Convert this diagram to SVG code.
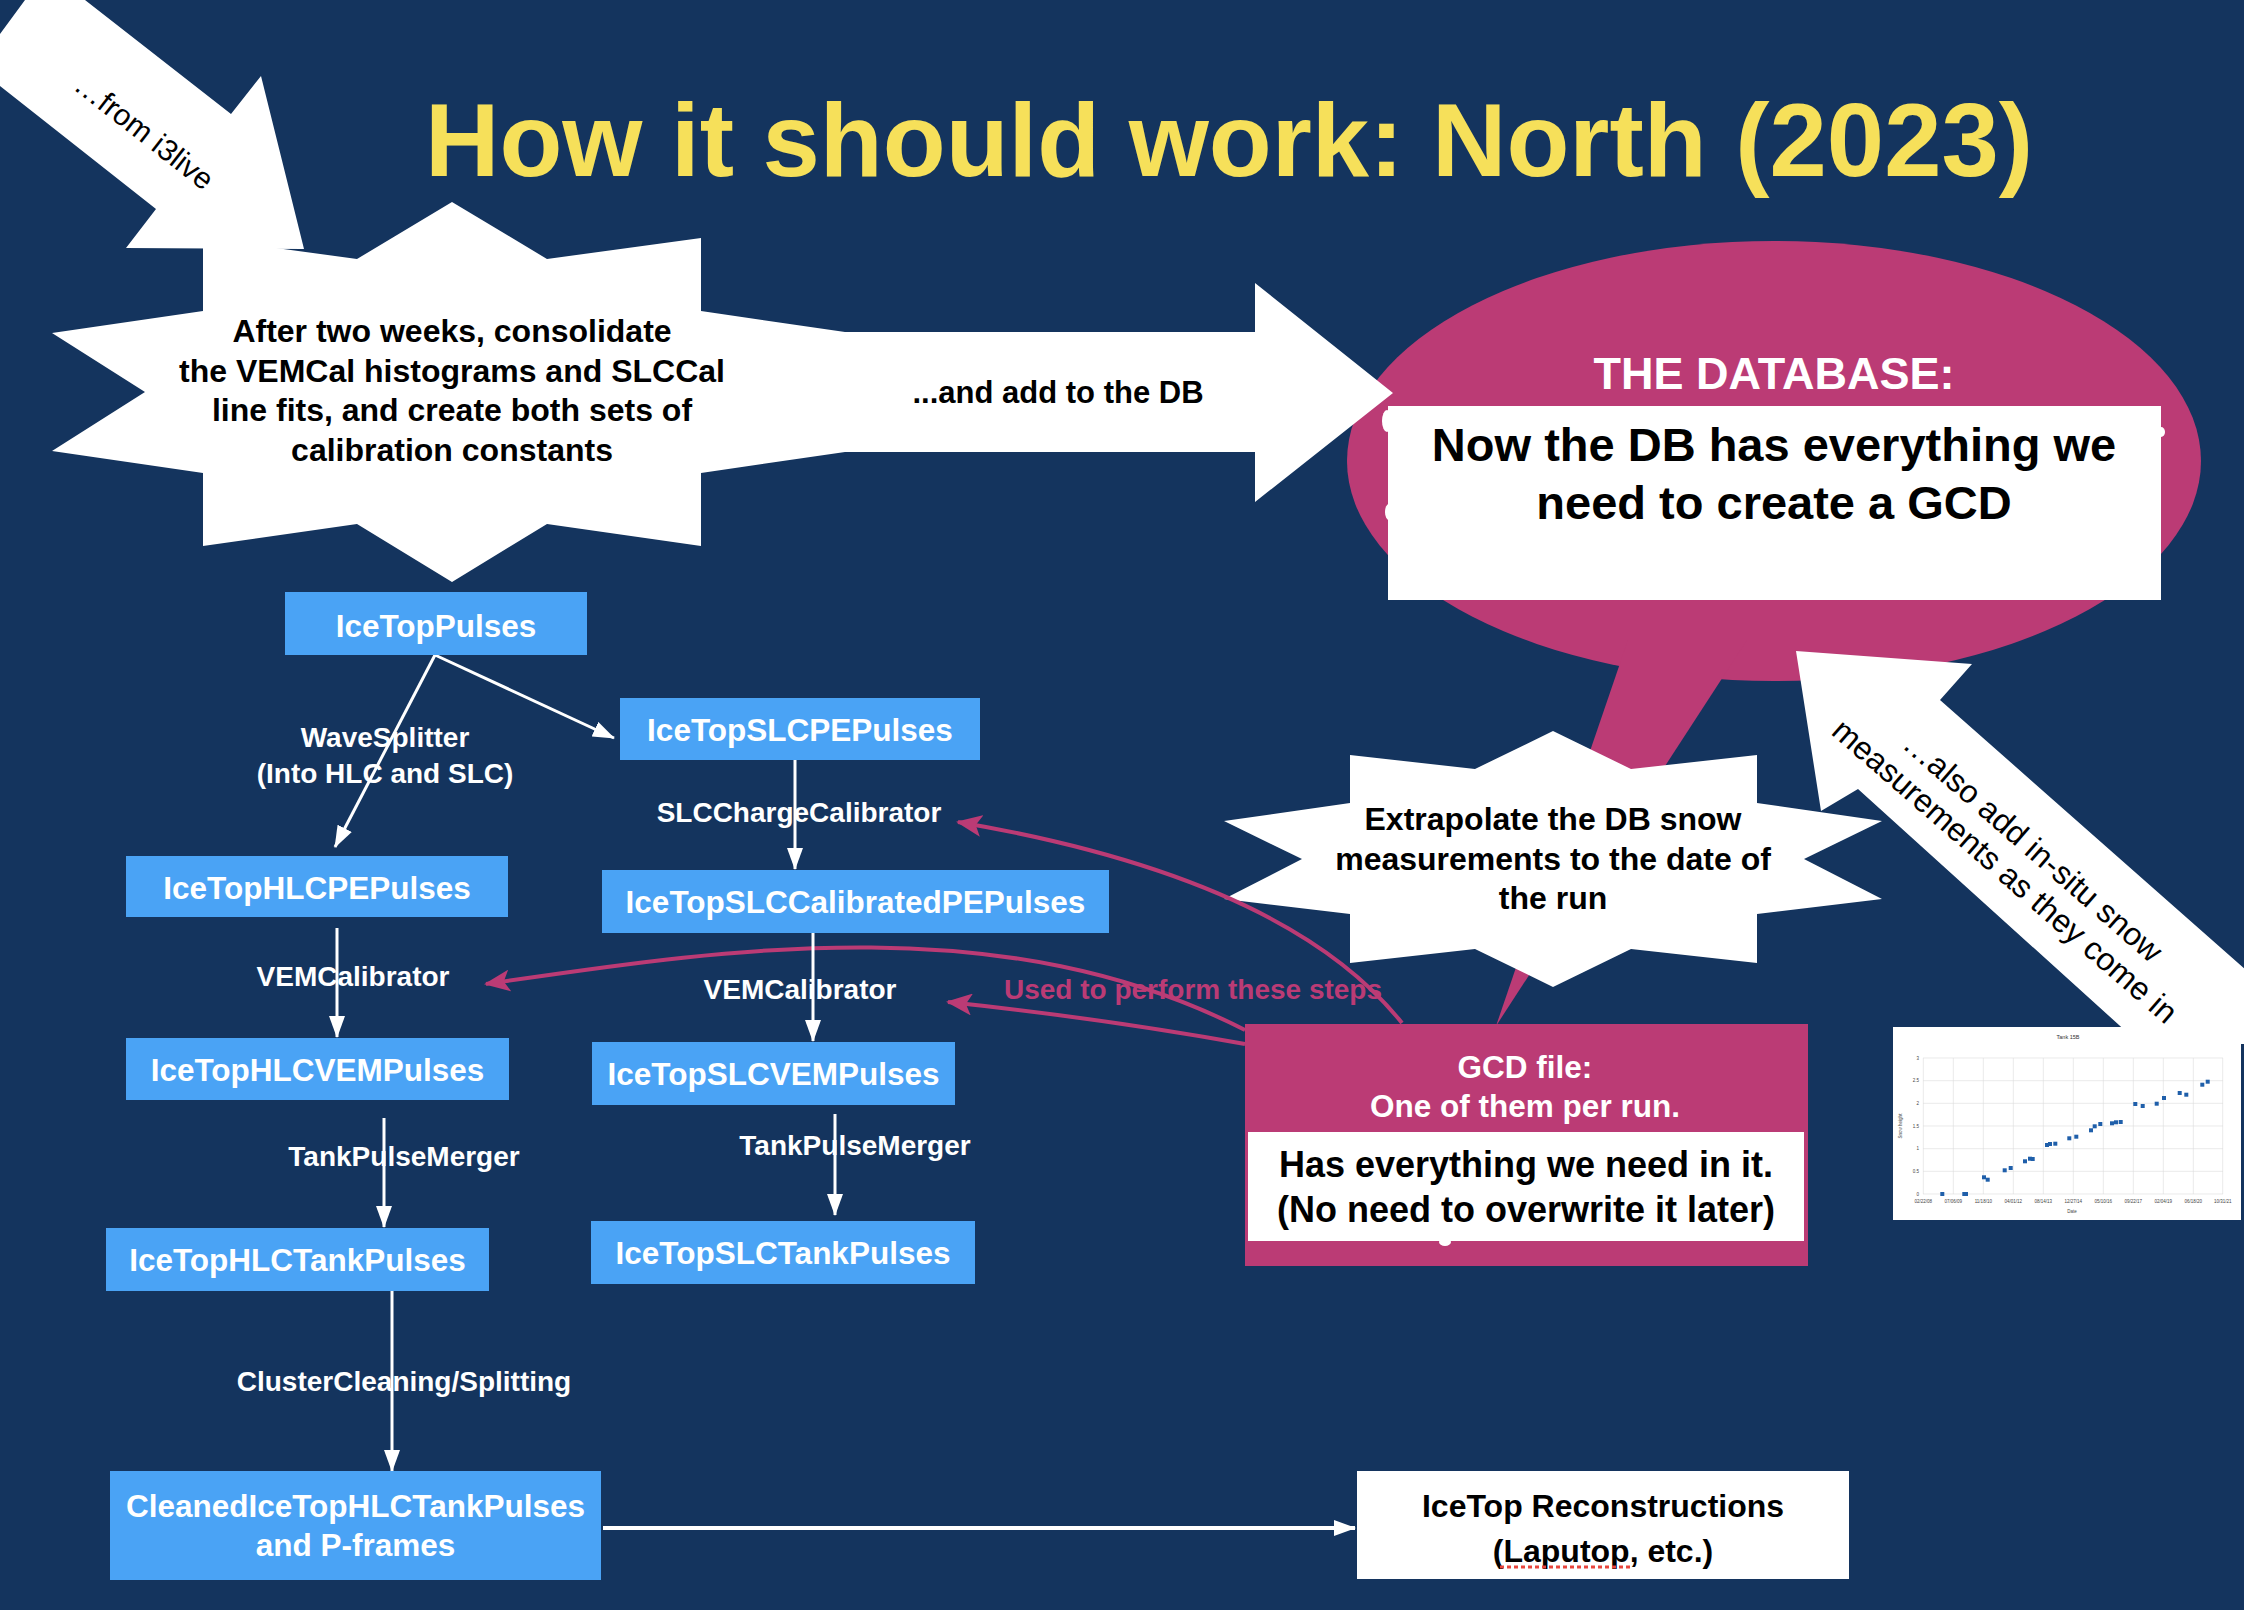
<svg xmlns="http://www.w3.org/2000/svg" width="2244" height="1610" viewBox="0 0 2244 1610">
<defs>
<style>
text{font-family:"Liberation Sans",Arial,Helvetica,sans-serif}
.b{font-weight:bold}
.mid{text-anchor:middle}
.nodebox{fill:#4aa3f5}
.nt{fill:#fff;font-weight:bold;font-size:31.5px;text-anchor:middle}
.lbl{fill:#fff;font-weight:bold;font-size:28px;text-anchor:middle}
.conn{stroke:#fff;stroke-width:3;fill:none;marker-end:url(#wa)}
.pk{stroke:#bb3b75;stroke-width:4;fill:none;marker-end:url(#pa)}
.wh{fill:#fff}
.grid{stroke:#dcdcdc;stroke-width:0.6}
.ax{font-size:4.5px;fill:#444}
.pt{fill:#1f5faa}
</style>
<marker id="wa" markerUnits="userSpaceOnUse" markerWidth="22" markerHeight="16" refX="21" refY="8" orient="auto">
<path d="M0,0 L22,8 L0,16 z" fill="#fff"/>
</marker>
<marker id="pa" markerUnits="userSpaceOnUse" markerWidth="26" markerHeight="22" refX="24" refY="11" orient="auto">
<path d="M0,0 L26,11 L0,22 L6,11 z" fill="#bb3b75"/>
</marker>
</defs>

<rect x="0" y="0" width="2244" height="1610" fill="#14345e"/>

<text x="425" y="176" class="b" font-size="103" fill="#f6e05a">How it should work: North (2023)</text>

<!-- database bubble -->
<g id="database">
<ellipse cx="1774" cy="461" rx="427" ry="220" fill="#bb3b75"/>
<polygon points="1628,640 1747,640 1496,1026" fill="#bb3b75"/>
<text x="1774" y="389" class="b mid" font-size="45" fill="#fff">THE DATABASE:</text>
<rect x="1388" y="406" width="773" height="194" fill="#fff"/>
<ellipse cx="1387" cy="421" rx="5" ry="11" fill="#fff"/>
<ellipse cx="1389" cy="512" rx="4" ry="8" fill="#fff"/>
<ellipse cx="2161" cy="432" rx="4" ry="5" fill="#fff"/>
<text x="1774" y="461" class="b mid" font-size="47" fill="#000">Now the DB has everything we</text>
<text x="1774" y="519" class="b mid" font-size="47" fill="#000">need to create a GCD</text>
</g>

<!-- big white arrows -->
<g id="from-i3live">
<polygon class="wh" points="0,34 25,0 85,0 231,114 261,76 304,249 126,248 156,209 0,86"/>
<text transform="translate(144,132) rotate(38)" y="10" class="mid" font-size="30" fill="#000">…from i3live</text>
</g>

<g id="consolidate">
<polygon class="wh" points="452,202 547,259 701,238 701,311 845,332 1255,332 1255,283 1393,393 1255,502 1255,452 845,452 701,473 701,546 547,524 452,582 357,524 203,546 203,473 52,451 145,392 52,333 203,311 203,238 357,259"/>
<text x="452" y="342" class="b mid" font-size="32" fill="#000">After two weeks, consolidate</text>
<text x="452" y="382" class="b mid" font-size="32" fill="#000">the VEMCal histograms and SLCCal</text>
<text x="452" y="421" class="b mid" font-size="32" fill="#000">line fits, and create both sets of</text>
<text x="452" y="461" class="b mid" font-size="32" fill="#000">calibration constants</text>
<text x="1058" y="403" class="b mid" font-size="31" fill="#000">...and add to the DB</text>
</g>

<g id="extrapolate">
<polygon class="wh" points="1553,731 1631,769 1757,755 1757,803 1882,821 1804,859 1882,899 1757,914 1757,963 1631,949 1553,987 1475,949 1350,963 1350,914 1224,899 1302,859 1224,821 1350,803 1350,755 1475,769"/>
<text x="1553" y="830" class="b mid" font-size="32" fill="#000">Extrapolate the DB snow</text>
<text x="1553" y="870" class="b mid" font-size="32" fill="#000">measurements to the date of</text>
<text x="1553" y="909" class="b mid" font-size="32" fill="#000">the run</text>
</g>

<g id="insitu-snow">
<polygon class="wh" points="1796,651 1972,664 1940,700 2330,1044 2140,1044 1858,789 1821,811"/>
<text transform="translate(2033,847) rotate(41)" y="11" class="mid" font-size="32" fill="#000">…also add in-situ snow</text>
<text transform="translate(2005,871) rotate(41)" y="11" class="mid" font-size="32" fill="#000">measurements as they come in</text>
</g>

<!-- snow chart -->
<g id="snow-chart">
<rect x="1893" y="1027" width="348" height="193" fill="#fff"/>
<text x="2068" y="1039" class="mid" font-size="5.5" fill="#333">Tank 15B</text>
<g class="grid">
<line x1="1923" y1="1058" x2="2223" y2="1058"/>
<line x1="1923" y1="1080.7" x2="2223" y2="1080.7"/>
<line x1="1923" y1="1103.3" x2="2223" y2="1103.3"/>
<line x1="1923" y1="1126" x2="2223" y2="1126"/>
<line x1="1923" y1="1148.7" x2="2223" y2="1148.7"/>
<line x1="1923" y1="1171.3" x2="2223" y2="1171.3"/>
<line x1="1923" y1="1194" x2="2223" y2="1194"/>
<line x1="1923.3" y1="1058" x2="1923.3" y2="1194"/>
<line x1="1953.3" y1="1058" x2="1953.3" y2="1194"/>
<line x1="1983.3" y1="1058" x2="1983.3" y2="1194"/>
<line x1="2013.3" y1="1058" x2="2013.3" y2="1194"/>
<line x1="2043.3" y1="1058" x2="2043.3" y2="1194"/>
<line x1="2073.3" y1="1058" x2="2073.3" y2="1194"/>
<line x1="2103.3" y1="1058" x2="2103.3" y2="1194"/>
<line x1="2133.3" y1="1058" x2="2133.3" y2="1194"/>
<line x1="2163.3" y1="1058" x2="2163.3" y2="1194"/>
<line x1="2193.3" y1="1058" x2="2193.3" y2="1194"/>
<line x1="2222.7" y1="1058" x2="2222.7" y2="1194"/>
</g>
<g class="ax" text-anchor="end">
<text x="1919" y="1059.5">3</text>
<text x="1919" y="1082.2">2.5</text>
<text x="1919" y="1104.8">2</text>
<text x="1919" y="1127.5">1.5</text>
<text x="1919" y="1150.2">1</text>
<text x="1919" y="1172.8">0.5</text>
<text x="1919" y="1195.5">0</text>
</g>
<g class="ax" text-anchor="middle">
<text x="1923.3" y="1203">02/22/08</text>
<text x="1953.3" y="1203">07/06/09</text>
<text x="1983.3" y="1203">11/18/10</text>
<text x="2013.3" y="1203">04/01/12</text>
<text x="2043.3" y="1203">08/14/13</text>
<text x="2073.3" y="1203">12/27/14</text>
<text x="2103.3" y="1203">05/10/16</text>
<text x="2133.3" y="1203">09/22/17</text>
<text x="2163.3" y="1203">02/04/19</text>
<text x="2193.3" y="1203">06/18/20</text>
<text x="2222.7" y="1203">10/31/21</text>
<text x="2072" y="1213">Date</text>
<text transform="translate(1902,1126) rotate(-90)">Snow height</text>
</g>
<g class="pt">
<rect x="1940.3" y="1192" width="4" height="4"/>
<rect x="1962.3" y="1192" width="4" height="4"/>
<rect x="1964" y="1192" width="4" height="4"/>
<rect x="1982" y="1175.3" width="4" height="4"/>
<rect x="1985.7" y="1177.7" width="4" height="4"/>
<rect x="2002.7" y="1168.3" width="4" height="4"/>
<rect x="2008.7" y="1166" width="4" height="4"/>
<rect x="2023" y="1159.3" width="4" height="4"/>
<rect x="2028" y="1156.7" width="4" height="4"/>
<rect x="2030.7" y="1157" width="4" height="4"/>
<rect x="2045" y="1143" width="4" height="4"/>
<rect x="2048" y="1142" width="4" height="4"/>
<rect x="2053.3" y="1141.7" width="4" height="4"/>
<rect x="2067.3" y="1136.3" width="4" height="4"/>
<rect x="2074.3" y="1134.7" width="4" height="4"/>
<rect x="2089" y="1128.3" width="4" height="4"/>
<rect x="2092.7" y="1124.3" width="4" height="4"/>
<rect x="2098.3" y="1122" width="4" height="4"/>
<rect x="2110" y="1121.3" width="4" height="4"/>
<rect x="2114" y="1120.3" width="4" height="4"/>
<rect x="2118.7" y="1120" width="4" height="4"/>
<rect x="2133.3" y="1102" width="4" height="4"/>
<rect x="2140.7" y="1104" width="4" height="4"/>
<rect x="2154.7" y="1101.7" width="4" height="4"/>
<rect x="2162" y="1096" width="4" height="4"/>
<rect x="2177.7" y="1091" width="4" height="4"/>
<rect x="2184.3" y="1092.7" width="4" height="4"/>
<rect x="2200.3" y="1082.7" width="4" height="4"/>
<rect x="2205.7" y="1079.7" width="4" height="4"/>
</g>
</g>

<!-- connectors -->
<g id="connectors">
<path class="pk" d="M1402,1023 Q1287,878 958,822"/>
<path class="pk" d="M1245,1030 C1000,905 720,950 486,984"/>
<path class="pk" d="M1245,1044 Q1100,1018 948,1002"/>
<line class="conn" x1="435" y1="655" x2="335" y2="847"/>
<line class="conn" x1="435" y1="655" x2="614" y2="738"/>
<line class="conn" x1="795" y1="760" x2="795" y2="869"/>
<line class="conn" x1="337" y1="928" x2="337" y2="1037"/>
<line class="conn" x1="813" y1="933" x2="813" y2="1041"/>
<line class="conn" x1="384" y1="1118" x2="384" y2="1227"/>
<line class="conn" x1="835" y1="1114" x2="835" y2="1215"/>
<line class="conn" x1="392" y1="1291" x2="392" y2="1471"/>
<line class="conn" x1="603" y1="1528" x2="1355" y2="1528" style="stroke-width:4"/>
</g>

<text x="1193" y="999" class="b mid" font-size="28" fill="#bb3b75">Used to perform these steps</text>

<!-- GCD file -->
<g id="gcd-file">
<rect x="1245" y="1024" width="563" height="242" fill="#bb3b75"/>
<text x="1525" y="1078" class="b mid" font-size="31.5" fill="#fff">GCD file:</text>
<text x="1525" y="1117" class="b mid" font-size="31.5" fill="#fff">One of them per run.</text>
<rect x="1248" y="1132" width="556" height="109" fill="#fff"/>
<ellipse cx="1445" cy="1242" rx="6" ry="4" fill="#fff"/>
<text x="1526" y="1177" class="b mid" font-size="36" fill="#000">Has everything we need in it.</text>
<text x="1526" y="1222" class="b mid" font-size="36" fill="#000">(No need to overwrite it later)</text>
</g>

<!-- pulse nodes -->
<g id="IceTopPulses"><rect class="nodebox" x="285" y="592" width="302" height="63"/><text class="nt" x="436" y="637">IceTopPulses</text></g>
<g id="IceTopSLCPEPulses"><rect class="nodebox" x="620" y="698" width="360" height="62"/><text class="nt" x="800" y="741">IceTopSLCPEPulses</text></g>
<g id="IceTopHLCPEPulses"><rect class="nodebox" x="126" y="856" width="382" height="61"/><text class="nt" x="317" y="899">IceTopHLCPEPulses</text></g>
<g id="IceTopSLCCalibratedPEPulses"><rect class="nodebox" x="602" y="870" width="507" height="63"/><text class="nt" x="855.5" y="913">IceTopSLCCalibratedPEPulses</text></g>
<g id="IceTopHLCVEMPulses"><rect class="nodebox" x="126" y="1038" width="383" height="62"/><text class="nt" x="317.5" y="1081">IceTopHLCVEMPulses</text></g>
<g id="IceTopSLCVEMPulses"><rect class="nodebox" x="592" y="1042" width="363" height="63"/><text class="nt" x="773.5" y="1085">IceTopSLCVEMPulses</text></g>
<g id="IceTopHLCTankPulses"><rect class="nodebox" x="106" y="1228" width="383" height="63"/><text class="nt" x="297.5" y="1271">IceTopHLCTankPulses</text></g>
<g id="IceTopSLCTankPulses"><rect class="nodebox" x="591" y="1221" width="384" height="63"/><text class="nt" x="783" y="1264">IceTopSLCTankPulses</text></g>
<g id="CleanedIceTopHLCTankPulses"><rect class="nodebox" x="110" y="1471" width="491" height="109"/><text class="nt" x="355.5" y="1517">CleanedIceTopHLCTankPulses</text><text class="nt" x="355.5" y="1556">and P-frames</text></g>

<g id="IceTopReconstructions">
<rect x="1357" y="1471" width="492" height="108" fill="#fff"/>
<text x="1603" y="1517" class="b mid" font-size="32" fill="#000">IceTop Reconstructions</text>
<text x="1603" y="1562" class="b mid" font-size="32" fill="#000">(Laputop, etc.)</text>
<line x1="1500" y1="1567" x2="1632" y2="1567" stroke="#e8453c" stroke-width="3" stroke-dasharray="4,3"/>
</g>

<!-- step labels -->
<g id="step-labels">
<text class="lbl" x="385" y="747">WaveSplitter</text>
<text class="lbl" x="385" y="783">(Into HLC and SLC)</text>
<text class="lbl" x="799" y="822">SLCChargeCalibrator</text>
<text class="lbl" x="353" y="986">VEMCalibrator</text>
<text class="lbl" x="800" y="999">VEMCalibrator</text>
<text class="lbl" x="404" y="1166">TankPulseMerger</text>
<text class="lbl" x="855" y="1155">TankPulseMerger</text>
<text class="lbl" x="404" y="1391">ClusterCleaning/Splitting</text>
</g>
</svg>
